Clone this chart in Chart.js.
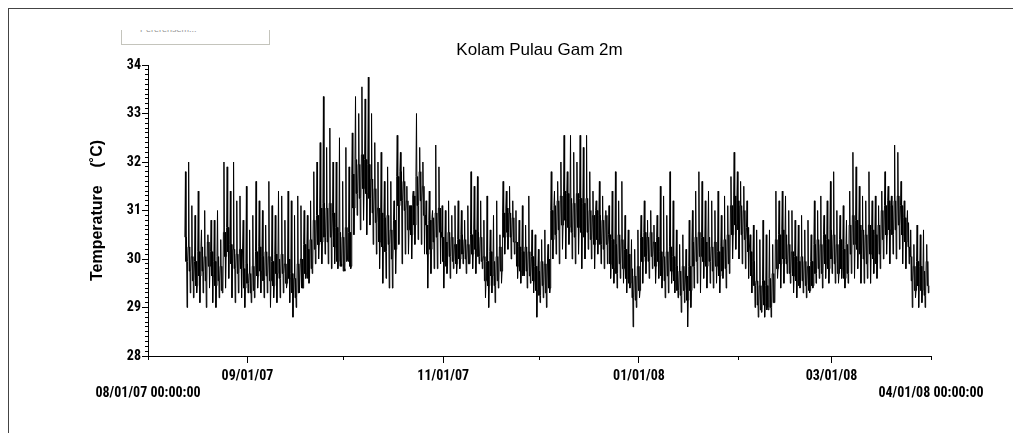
<!DOCTYPE html>
<html>
<head>
<meta charset="utf-8">
<title>Kolam Pulau Gam 2m</title>
<script src="https://cdn.jsdelivr.net/npm/chart.js@4.4.1/dist/chart.umd.min.js"></script>
<style>
  html, body { margin: 0; padding: 0; background: #fff; overflow: hidden; }
  body { width: 1013px; height: 433px; position: relative; }
  #frame {
    position: absolute; left: 8px; top: 8px; width: 1004px; height: 424px;
    border-top: 1px solid #444; border-left: 1px solid #444;
  }
  #legendBox {
    position: absolute; left: 121px; top: 30px; width: 147px; height: 14px;
    border: 1px solid #c4c4bc; border-top: none; overflow: hidden;
  }
  #legendBox span {
    position: absolute; left: 18px; top: -6px;
    font: 9px 'Liberation Sans', Arial, sans-serif; color: #999; white-space: nowrap;
  }
  #chart { position: absolute; left: 0; top: 0; }
</style>
</head>
<body>
<div id="frame"></div>
<div id="legendBox"><span>Pererensem...</span></div>
<canvas id="chart" width="1013" height="433"></canvas>
<script>
// Days counted from 08/01/07 00:00:00 (day 0) to 04/01/08 00:00:00 (day 244)
const axisStart = 0;
const axisEnd = 244;
const monthDays = [0, 31, 61, 92, 122, 153, 184, 213, 244];
const labelDays = [0, 31, 92, 153, 213, 244];
const labelTexts = [
  ['', '08/01/07 00:00:00'], '09/01/07', '11/01/07',
  '01/01/08', '03/01/08', ['', '04/01/08 00:00:00']
];
const yLabels = [28, 29, 30, 31, 32, 33, 34];

// first logged day (starting 08/12/07 noon)
const firstDay = 11.5;

// daily maximum (°C), one value per day
const dayHigh = [
  31.8, 32.0, 31.1, 30.9, 31.4, 30.6, 31.0, 30.5, 30.8, 30.8,
  31.0, 30.4, 32.0, 31.9, 31.4, 32.0, 31.2, 31.3, 30.8, 31.5,
  30.6, 30.9, 31.6, 31.2, 31.0, 30.7, 31.6, 31.1, 30.9, 31.4,
  31.3, 30.8, 31.4, 31.2, 30.9, 31.3, 31.1, 31.0, 30.9, 31.2,
  31.8, 32.0, 32.4, 33.35, 32.3, 32.7, 32.0, 32.0, 32.5, 31.6,
  32.3, 31.9, 32.6, 33.35, 33.0, 33.55, 33.3, 33.75, 33.0, 32.4,
  32.0, 32.2, 31.6, 31.9, 31.6, 31.2, 32.55, 32.2, 31.9, 31.5,
  31.1, 31.4, 33.0, 32.3, 32.0, 31.2, 31.4, 31.0, 32.35, 31.9,
  31.1, 31.0, 31.2, 30.9, 31.1, 31.2, 31.0, 30.8, 31.1, 31.8,
  31.5, 31.7, 31.2, 30.8, 31.3, 30.6, 30.9, 31.2, 30.5, 31.6,
  31.4, 31.5, 31.2, 31.0, 30.8, 31.1, 30.7, 31.3, 30.6, 30.5,
  30.2, 30.4, 30.6, 30.3, 31.8, 31.4, 31.6, 32.0, 32.55, 31.8,
  32.55, 32.2, 32.0, 32.55, 32.3, 32.55, 31.8, 31.4, 31.2, 31.6,
  31.3, 31.0, 31.1, 31.4, 31.8, 31.2, 31.6, 30.9, 30.6, 30.4,
  30.2, 30.6, 30.9, 31.2, 30.8, 31.0, 30.7, 30.9, 31.5, 31.3,
  30.9, 31.8, 31.2, 30.6, 30.3, 30.5, 30.2, 30.8, 31.0, 31.4,
  31.8, 31.6, 31.2, 31.4, 31.2, 31.0, 31.4, 30.9, 31.3, 31.1,
  31.7, 32.2, 31.8, 31.6, 31.5, 31.2, 30.5, 30.7, 30.6, 30.4,
  30.8, 30.5, 30.6, 30.3, 31.4, 31.2, 31.4, 31.3, 31.0, 31.0,
  30.8, 30.7, 30.9, 30.6, 30.8, 30.5, 31.2, 31.0, 31.3, 30.9,
  31.2, 31.6, 31.8, 31.0, 30.9, 31.1, 30.8, 31.4, 32.2, 31.9,
  31.5, 31.3, 31.2, 31.8, 31.2, 31.3, 31.1, 31.4, 31.8, 31.5,
  31.3, 32.35, 32.2, 31.6, 31.2, 31.0, 30.6, 30.3, 30.7, 30.5,
  30.6, 30.3
];

// daily minimum (°C)
const dayLow = [
  29.0, 29.3, 29.2, 29.3, 29.1, 29.3, 29.0, 29.4, 29.1, 29.0,
  29.2, 29.3, 29.4, 29.6, 29.2, 29.1, 29.3, 29.2, 29.0, 29.3,
  29.1, 29.2, 29.4, 29.3, 29.2, 29.3, 29.0, 29.2, 29.1, 29.2,
  29.3, 29.4, 29.1, 28.8, 29.0, 29.3, 29.4, 29.6, 29.5, 29.7,
  29.9, 30.0, 29.9, 30.1, 29.9, 29.8, 29.9, 29.8, 29.9, 29.8,
  30.0, 29.8, 30.5, 30.9, 30.6, 30.8, 30.5, 30.7, 30.3, 30.1,
  29.8, 29.5, 29.6, 29.4, 29.4, 29.7, 30.3, 29.9, 30.1, 30.1,
  30.0, 30.3, 30.4, 30.3, 30.1, 29.4, 29.7, 29.8, 29.8, 29.9,
  29.4, 29.7, 29.6, 29.8, 29.7, 29.8, 29.9, 29.7, 29.9, 29.8,
  29.7, 29.9, 29.8, 29.2, 29.0, 29.3, 29.1, 29.4, 29.5, 30.1,
  30.2, 30.0, 30.1, 29.6, 29.5, 29.7, 29.4, 29.5, 29.3, 28.8,
  29.1, 29.2, 29.0, 29.3, 30.0, 30.1, 29.9, 30.2, 30.0, 30.3,
  30.0, 29.9, 30.1, 29.8, 30.0, 30.2, 30.0, 29.8, 30.1, 29.9,
  29.8, 29.9, 29.6, 29.5, 29.4, 29.6, 29.5, 29.3, 29.4, 28.6,
  29.0, 29.2, 29.5, 29.7, 29.6, 29.8, 29.5, 29.6, 29.4, 29.2,
  29.3, 29.5, 29.3, 29.2, 28.9, 29.1, 28.6, 29.0, 29.4, 29.5,
  29.3, 29.6, 29.4, 29.5, 29.4, 29.5, 29.3, 29.6, 29.4, 29.7,
  30.0, 30.2, 30.0, 29.9, 29.8, 29.6, 29.3, 29.0, 28.8, 28.9,
  28.8, 29.0, 28.8, 29.1, 29.6, 29.4, 29.5, 29.7, 29.5, 29.3,
  29.2, 29.4, 29.3, 29.2, 29.3, 29.4, 29.5, 29.6, 29.4, 29.6,
  29.5, 29.7, 29.5, 29.5, 29.6, 29.4, 29.5, 29.7, 29.6, 29.8,
  29.5, 29.5, 29.6, 29.5, 29.7, 29.6, 29.8, 30.0, 30.1, 29.9,
  30.1, 30.0, 30.2, 29.9, 29.8, 29.9, 29.0, 29.2, 29.0, 29.1,
  29.0, 29.3
];

// typical (most frequent) level for each day (°C)
const dayMid = [
  30.2, 30.0, 29.8, 29.7, 29.9, 30.0, 29.8, 30.1, 29.9, 29.7,
  29.8, 29.6, 30.3, 30.4, 30.1, 30.0, 29.9, 30.0, 29.6, 29.7,
  29.5, 29.6, 29.9, 30.0, 29.8, 29.9, 29.8, 29.7, 29.9, 29.8,
  29.9, 29.7, 29.8, 29.5, 29.4, 29.6, 29.7, 30.0, 29.9, 30.1,
  30.5, 30.6, 30.7, 30.8, 30.7, 30.8, 30.6, 30.3, 30.2, 30.1,
  30.3, 30.2, 31.4, 31.7, 31.6, 31.8, 31.7, 31.6, 31.3, 31.1,
  30.7, 30.6, 30.5, 30.6, 30.3, 30.5, 31.4, 31.5, 31.3, 30.9,
  30.8, 31.0, 31.4, 31.5, 31.2, 30.4, 30.5, 30.6, 30.7, 30.8,
  30.2, 30.1, 30.3, 30.2, 30.1, 30.2, 30.3, 30.2, 30.1, 30.3,
  30.4, 30.3, 30.2, 29.8, 29.7, 29.9, 29.7, 29.8, 30.0, 30.7,
  30.8, 30.7, 30.6, 30.1, 30.0, 29.9, 30.0, 29.9, 29.8, 29.6,
  29.5, 29.7, 29.6, 29.7, 30.7, 30.8, 30.9, 31.0, 31.1, 31.0,
  30.9, 30.8, 31.0, 30.9, 30.8, 30.9, 30.7, 30.6, 30.7, 30.6,
  30.5, 30.6, 30.2, 30.1, 30.0, 30.2, 30.1, 29.9, 29.8, 29.5,
  29.4, 29.6, 30.2, 30.3, 30.2, 30.3, 30.1, 30.2, 29.9, 29.8,
  29.9, 30.0, 29.8, 29.6, 29.5, 29.6, 29.4, 29.6, 30.1, 30.2,
  30.3, 30.2, 30.1, 30.2, 30.0, 30.1, 29.9, 30.0, 30.1, 30.2,
  30.8, 31.0, 30.9, 30.8, 30.7, 30.4, 29.9, 29.7, 29.3, 29.2,
  29.3, 29.2, 29.3, 29.4, 30.1, 30.2, 30.3, 30.2, 30.0, 29.9,
  29.8, 29.7, 29.8, 29.7, 29.6, 29.7, 30.0, 30.1, 30.0, 30.2,
  30.1, 30.3, 30.2, 30.0, 30.1, 29.9, 30.0, 30.4, 30.6, 30.5,
  30.4, 30.3, 30.2, 30.4, 30.3, 30.2, 30.4, 30.7, 30.8, 30.9,
  30.8, 30.9, 31.0, 30.8, 30.6, 30.5, 29.8, 29.6, 29.7, 29.6,
  29.5, 29.7
];

// half thickness of the dense (dark) band, one value per week (°C)
const weekCoreHalf = [
  0.25, 0.25, 0.2, 0.25, 0.2, 0.3, 0.35, 0.35, 0.35, 0.3,
  0.3, 0.25, 0.2, 0.25, 0.25, 0.25, 0.3, 0.35, 0.3, 0.3,
  0.25, 0.25, 0.25, 0.25, 0.3, 0.25, 0.3, 0.25, 0.3, 0.3,
  0.3, 0.3, 0.25, 0.25
];

const tickFontX = { family: "'Roboto Condensed', Roboto, 'Liberation Sans', sans-serif", size: 14, weight: 'bold' };
const tickFontY = { family: "'Roboto Condensed', Roboto, 'Liberation Sans', sans-serif", size: 14, weight: 'bold' };

// Build the line: each day wanders inside the dense band and spikes once up, once down
function buildSeries() {
  const pts = [];
  dayMid.forEach((m, i) => {
    const d = firstDay + i;
    const s = weekCoreHalf[Math.floor(i / 7)];
    const seq = [m + s, dayHigh[i], m - s, m + s, dayLow[i], m - s];
    seq.forEach((v, k) => pts.push({ x: d + k / seq.length, y: v }));
  });
  return pts;
}

// minor ticks every 0.1 °C on the temperature axis
function minorTicks() {
  const out = [];
  for (let k = yLabels[0] * 10; k <= yLabels[yLabels.length - 1] * 10; k++) {
    out.push({ value: k / 10 });
  }
  return out;
}

const isEndTick = c => c.tick && (c.tick.value === axisStart || c.tick.value === axisEnd);

const ctx = document.getElementById('chart');
new Chart(ctx, {
  type: 'line',
  data: {
    datasets: [{
      label: 'Temperature',
      data: buildSeries(),
      borderColor: '#000',
      borderWidth: 1,
      pointRadius: 0,
      tension: 0,
      fill: false,
      xAxisID: 'x',
      yAxisID: 'y'
    }]
  },
  options: {
    responsive: false,
    animation: false,
    devicePixelRatio: 1,
    events: [],
    layout: { padding: { left: 0, right: 82, top: 0, bottom: 0 } },
    plugins: {
      legend: { display: false },
      tooltip: { enabled: false },
      title: {
        display: true,
        text: 'Kolam Pulau Gam 2m',
        fullSize: false,
        color: '#000',
        font: { family: "'Liberation Sans', Arial, sans-serif", size: 17, weight: 'normal', lineHeight: 1.2 },
        padding: { top: 40, bottom: 4.6 }
      }
    },
    scales: {
      x: {
        type: 'linear',
        position: 'bottom',
        weight: 1,
        min: axisStart,
        max: axisEnd,
        afterBuildTicks: scale => { scale.ticks = labelDays.map(v => ({ value: v })); },
        afterFit: scale => { scale.height = 77; },
        ticks: {
          autoSkip: false,
          maxRotation: 0,
          padding: 5,
          color: '#000',
          font: tickFontX,
          callback: (value, index) => labelTexts[index]
        },
        grid: {
          drawOnChartArea: false, drawTicks: true, tickLength: 7,
          tickColor: c => isEndTick(c) ? 'rgba(0,0,0,0)' : '#000'
        },
        border: { display: true, color: '#000', width: 1 }
      },
      xMinor: {
        type: 'linear',
        position: 'bottom',
        weight: 0,
        min: axisStart,
        max: axisEnd,
        afterBuildTicks: scale => { scale.ticks = monthDays.map(v => ({ value: v })); },
        afterFit: scale => { scale.height = 0; },
        ticks: { display: false, autoSkip: false },
        grid: { drawOnChartArea: false, drawTicks: true, tickLength: 4, tickColor: '#000' },
        border: { display: false }
      },
      y: {
        position: 'left',
        weight: 1,
        min: yLabels[0],
        max: yLabels[yLabels.length - 1],
        afterBuildTicks: scale => { scale.ticks = yLabels.map(v => ({ value: v })); },
        afterFit: scale => { scale.width = 148; },
        ticks: { autoSkip: false, padding: 1, color: '#000', font: tickFontY },
        grid: { drawOnChartArea: false, drawTicks: true, tickLength: 6, tickColor: '#000' },
        border: { display: true, color: '#000', width: 1 },
        title: {
          display: true,
          text: 'Temperature    (˚C)',
          color: '#000',
          font: { family: "'Liberation Sans', Arial, sans-serif", size: 16, weight: 'bold', lineHeight: 1.2 },
          padding: { top: 88, bottom: 0 }
        }
      },
      yMinor: {
        position: 'left',
        weight: 0,
        min: yLabels[0],
        max: yLabels[yLabels.length - 1],
        afterBuildTicks: scale => { scale.ticks = minorTicks(); },
        afterFit: scale => { scale.width = 0; },
        ticks: { display: false, autoSkip: false },
        grid: { drawOnChartArea: false, drawTicks: true, tickLength: 3, tickColor: '#000' },
        border: { display: false }
      }
    }
  }
});
</script>
</body>
</html>
